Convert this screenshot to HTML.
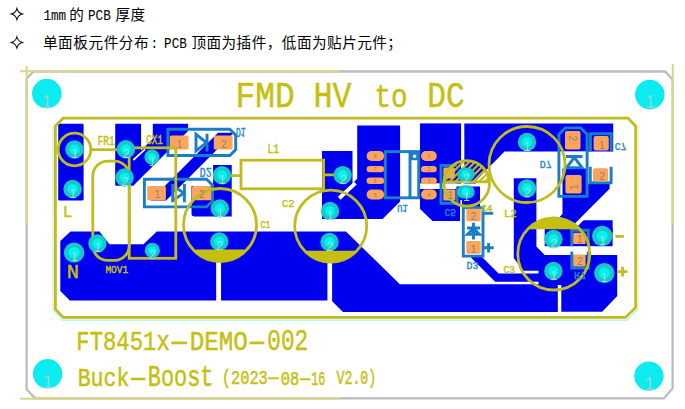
<!DOCTYPE html>
<html lang="zh">
<head>
<meta charset="utf-8">
<title>PCB</title>
<style>
html,body{margin:0;padding:0;background:#fff;}
body{width:685px;height:409px;overflow:hidden;position:relative;}
svg{position:absolute;left:0;top:0;}
.cj{font-family:"Liberation Sans","Noto Sans CJK SC",sans-serif;font-size:14.6px;fill:#000;}
.la{font-family:"Liberation Mono",monospace;font-size:14.7px;fill:#000;}
.cu{fill:#0000f0;}
.silk{fill:none;stroke:#c0bb1e;stroke-width:2.8;}
.silkf{fill:#c5c010;}
.bl{fill:none;stroke:#1a7dc6;stroke-width:2.9;}
.pad{fill:#fba55c;}
.st{font-family:"Liberation Mono",monospace;fill:#c5c010;stroke:#c5c010;stroke-width:0.45;}
.bt{font-family:"Liberation Mono",monospace;fill:#2a86c8;stroke:#2a86c8;stroke-width:0.4;}
.pn{font-family:"Liberation Sans",sans-serif;fill:#94806e;font-size:10.5px;}
.pc{font-family:"Liberation Sans",sans-serif;fill:#8fd6da;font-size:17.5px;}
.pp{font-family:"Liberation Sans",sans-serif;fill:#a8dcdc;font-size:12px;}
</style>
</head>
<body>

<svg width="685" height="409" viewBox="0 0 685 409">
<defs>
<pattern id="hatch" width="4.2" height="4.2" patternUnits="userSpaceOnUse" patternTransform="rotate(-45)">
<rect x="0" y="0" width="4.2" height="2.1" fill="#c5c010"/>
</pattern>
<clipPath id="c4top"><rect x="440" y="155" width="55" height="27.5"/></clipPath>
<clipPath id="c1clip"><rect x="180" y="249.5" width="80" height="20"/></clipPath>
<clipPath id="c2clip"><rect x="290" y="250.8" width="80" height="20"/></clipPath>
<clipPath id="c3clip"><rect x="510" y="210" width="90" height="19.2"/></clipPath>
<g id="p9"><circle r="9.2" fill="#19c6c8"/><circle r="5" fill="#00f2f2"/></g>
<g id="p7"><circle r="7.6" fill="#19c6c8"/><circle r="4.2" fill="#00f2f2"/></g>
<g id="p10"><circle r="10.2" fill="#19c6c8"/><circle r="5.6" fill="#00f2f2"/></g>
<g id="pov"><rect x="-8.8" y="-6.6" width="17.6" height="13.2" rx="6.6" fill="#19c6c8"/><circle r="4.4" fill="#00f2f2"/></g>
</defs>

<!-- heading text -->
<g id="head">
<path d="M16.9 8.5Q18.049999999999997 12.95 22.5 14.1Q18.049999999999997 15.25 16.9 19.7Q15.749999999999998 15.25 11.299999999999999 14.1Q15.749999999999998 12.95 16.9 8.5Z" fill="#fff" stroke="#111" stroke-width="1.05" stroke-linejoin="miter"/>
<path d="M16.9 36.8Q18.049999999999997 41.25 22.5 42.4Q18.049999999999997 43.55 16.9 48.0Q15.749999999999998 43.55 11.299999999999999 42.4Q15.749999999999998 41.25 16.9 36.8Z" fill="#fff" stroke="#111" stroke-width="1.05" stroke-linejoin="miter"/>
<text class="la" x="43.4" y="19.5" textLength="22.8" lengthAdjust="spacingAndGlyphs">1mm</text>
<text class="cj" x="69.3" y="19.8">的</text>
<text class="la" x="88" y="19.5" textLength="22.8" lengthAdjust="spacingAndGlyphs">PCB</text>
<text class="cj" x="115.4" y="19.8" style="letter-spacing:0.6px">厚度</text>
<text class="cj" x="42.9" y="48.2" style="letter-spacing:0.6px">单面板元件分布</text>
<text class="la" x="150.5" y="47.900000000000006" textLength="7.6" lengthAdjust="spacingAndGlyphs">:</text>
<text class="la" x="164.1" y="47.900000000000006" textLength="22.8" lengthAdjust="spacingAndGlyphs">PCB</text>
<text class="cj" x="191.4" y="48.2" style="letter-spacing:0.48px">顶面为插件，低面为贴片元件；</text>
</g>
<!-- faint guide lines -->
<g fill="none" stroke-width="1.3">

</g>
<!-- board outline -->
<path d="M33.6 71.5H665.2L672.6 79.4V388.4L663.8 398.4H35L26.6 389.2V78.8Z" fill="none" stroke="#bcbcbc" stroke-width="2.3"/>
<g fill="none" stroke="#dad685" stroke-width="2">
<path d="M20 71.2H340"/>
<path d="M26.7 66V224"/>
<path d="M672.7 64V224"/>
<path d="M20 398.8H339"/>
</g>

<!-- corner holes -->
<g fill="#0cecf0">
<circle cx="46.8" cy="93.6" r="14.8"/>
<circle cx="649.8" cy="94.6" r="14.8"/>
<circle cx="47.6" cy="373.8" r="14.7"/>
<circle cx="648.9" cy="376.1" r="14.7"/>
</g>
<g class="pc">
<text x="42" y="107.6">1</text>
<text x="645" y="108.4">1</text>
<text x="42.8" y="388.4">1</text>
<text x="644.4" y="390">1</text>
</g>

<!-- copper -->
<g class="cu" id="copper">
<rect x="58.2" y="123.8" width="25.4" height="76.8" rx="1.3"/>
<path d="M116.2 123.8H141V178L133.3 185.7H116.2Q115.2 185.7 115.2 184.7V124.8Q115.2 123.8 116.2 123.8Z"/>
<path d="M152.8 123.8H188.1V130.9L141 178V150.6L152.8 138.8Z"/>
<path d="M214 132.7H232.6V133.9L166.1 200.4H150.3L218 132.7Z"/>
<path d="M213.1 165H231.7V216.6H194.5Q191.5 216.6 191.5 213.6V186H213.1Z"/>
<path d="M322 151H352.5V183.5L357.2 178.8V125.5H400.1V201.5L382.6 219H322Z"/>
<rect x="420" y="123.4" width="41.1" height="60.2" />
<path d="M420 189H456.5V186.5H480V207H460V221H432.6L420 209Z"/>
<path d="M464.3 123.4H613.2V151.5H504.5L476 180.5V183.5H464.4Z"/>
<path d="M513.8 178.3H536.4V246.5L544.7 255H617.2V296L602.2 311.7H561.3V285H538.5V270.7H523L513.8 258Z"/>
<path d="M474 254.8L496.9 277.7H540" fill="none" stroke="#0000f0" stroke-width="8.2"/>
<rect x="544.7" y="228" width="67.9" height="18.2"/>
<path d="M583.6 220.2H612.6V232H571.8Z"/>
<path d="M562.5 168.6H588V183.4H609.6V188.8L569.4 229H552V224.4L562.5 213.9Z"/>
<path d="M60.3 241L70.5 231.4H99.5L109.4 244.2H143.5L156.8 231.4H345.9L399.9 284.3H557.8V311.9H343L332 301.1V300.4H69.8L60.3 290.9Z"/>
</g>
<!-- white gaps -->
<g stroke="#fff" fill="none">
<path d="M133.3 160L145 149.4" stroke-width="1.7"/>
<path d="M355.4 183.1L339.2 198.2" stroke-width="3.9"/>
<path d="M420 185.2H456.5" stroke-width="3.6"/>
<path d="M461.2 200V221" stroke-width="1.6"/>
<path d="M218.6 261V301.5" stroke-width="4.9"/>
<path d="M329.75 262V302" stroke-width="4.7"/>
</g>
<rect x="400.9" y="152.5" width="17" height="44.5" fill="#fff"/>

<!-- SMD pads + blue outlines -->
<g id="smd">
<!-- D1 -->
<path class="bl" d="M167.9 129.3H229.8L235.7 135.2V149.6L229.8 155.5H167.9Z"/>
<rect class="pad" x="169.8" y="135.6" width="18.8" height="13.8" rx="1.5"/>
<rect class="pad" x="213.8" y="135.6" width="18.8" height="13.8" rx="1.5"/>
<path class="bl" d="M196 134.2V151L206.4 142.6ZM207 133.8V151.4" stroke-width="2.2"/>
<!-- D2 -->
<path class="bl" d="M144.4 179.3H206.6L212.5 185.2V201L206.6 206.9H144.4Z"/>
<rect class="pad" x="147.2" y="185.9" width="18.7" height="14.4" rx="1.5"/>
<rect class="pad" x="192" y="185.9" width="19.3" height="14.4" rx="1.5"/>
<path class="bl" d="M172.7 184V202.2M173 186L184 193.1L173 200.2M184.4 184V202.2" stroke-width="2.2"/>
<!-- U1 -->
<g class="pad">
<rect x="366.6" y="151" width="17.6" height="10" rx="5"/>
<rect x="366.6" y="165.9" width="17.6" height="6.4" rx="3.2"/>
<rect x="366.6" y="177.6" width="17.6" height="6.4" rx="3.2"/>
<rect x="366.6" y="189.5" width="17.6" height="10" rx="5"/>
<rect x="421" y="151" width="15.8" height="10" rx="5"/>
<rect x="421" y="165.9" width="15.8" height="6.4" rx="3.2"/>
<rect x="421" y="177.6" width="15.8" height="6.4" rx="3.2"/>
<rect x="421" y="189.5" width="15.8" height="10" rx="5"/>
</g>
<rect class="bl" x="385.3" y="151.6" width="33.4" height="46.2" stroke-width="2.6"/>
<path class="bl" d="M410 152V197.5" stroke-width="2"/>
<rect x="410.5" y="152" width="8" height="8.2" fill="#1a7dc6"/><circle cx="414.6" cy="156.3" r="1.7" fill="#fff"/>
<!-- C5 -->
<path class="bl" d="M457.2 165.5H441V203.2H457.2V188" stroke-width="2.4"/>
<rect class="pad" x="443.4" y="167.6" width="11.4" height="11" rx="1.2"/>
<rect class="pad" x="443.4" y="189.6" width="12" height="11" rx="1.2"/>
<!-- D3 -->
<rect x="464" y="208" width="18.5" height="47.5" fill="#fff"/>
<path class="bl" d="M463.3 207.6V256.1H483V207.6Z" stroke-width="2.6"/>
<rect class="pad" x="466.3" y="208.8" width="14.4" height="12.4" rx="1"/>
<rect class="pad" x="466.3" y="240.9" width="14.4" height="12.9" rx="1"/>
<path class="bl" d="M473.5 222.7V239.4M467.1 228H480M473.5 228.6L467.6 234.2H479.4Z" stroke-width="1.8"/>
<path class="bl" d="M483 213.3H493.2" stroke-width="1.8"/>
<path class="bl" d="M483.6 247.7H493.6M488.6 243V252.4" stroke-width="2.2"/>
<!-- D7 -->
<rect x="560" y="151.6" width="26" height="16.5" fill="#fff"/>
<path class="bl" d="M565.3 127.9H580.7L587.1 134.3V196.4H558.9V134.3Z" stroke-width="2.9"/>
<rect class="pad" x="565" y="130.9" width="15.5" height="18.7" rx="2"/>
<rect class="pad" x="565.4" y="175" width="16.2" height="18.4" rx="2"/>
<path class="bl" d="M566 156.5H582.6M574.3 157.4L566.4 167.8H582.2Z" stroke-width="2.3"/>
<!-- C7 -->
<path class="bl" d="M590.4 151.4V133.8H611.2V151.4M590.3 166.8V182.8H611.1V166.8" stroke-width="2.7"/>
<rect class="pad" x="593.6" y="136" width="15.2" height="14.6" rx="2"/>
<rect class="pad" x="592.9" y="168.2" width="15.3" height="13.2" rx="2"/>
<!-- R7 -->
<path class="bl" d="M571.8 246.2V230.2H588.2V246.2M571.8 251.4V268H588.2V251.4" stroke-width="2.2"/>
<rect class="pad" x="573.2" y="232.7" width="12.4" height="11.4" rx="1.2"/>
<rect class="pad" x="573.2" y="254.6" width="12.4" height="11.9" rx="1.2"/>
</g>

<!-- silkscreen -->
<g id="silk">
<path d="M53 309.5L63 320.3H626.5L638.3 308.6" fill="none" stroke="#b9f3f0" stroke-width="1.6"/>
<path d="M53.1 309.5V126" fill="none" stroke="#d9f2cf" stroke-width="1.4"/>
<path d="M638.2 308.6V126" fill="none" stroke="#f0f0c4" stroke-width="1.2"/>
<path class="silk" d="M63.2 118.2H628.1L635.7 126.2V307.5L625.4 317.4H63.4L55.4 309.2V126Z" stroke-width="2.9"/>
<circle class="silk" cx="74.5" cy="149.5" r="16.3"/>
<path class="silk" d="M90.8 149.7H117.5"/>
<rect class="silk" x="92.8" y="161.2" width="36.5" height="99.1" rx="14.8"/>
<rect class="silk" x="129.2" y="147.8" width="46.6" height="110.5"/>
<circle class="silk" cx="220" cy="225" r="36.5"/>
<rect class="silk" x="241" y="160.2" width="82.6" height="28.6"/>
<path class="silk" d="M231 175.6H241M323.6 174.9H334.5"/>
<circle class="silk" cx="330.7" cy="226.1" r="36"/>
<circle cx="466.7" cy="183.4" r="22.8" fill="url(#hatch)" clip-path="url(#c4top)"/>
<circle class="silk" cx="466.7" cy="183.4" r="22.8" stroke-width="3.1"/>
<path class="silk" d="M444 181.8H489.4" stroke-width="3.3"/>
<circle class="silk" cx="527" cy="164.5" r="38" stroke-width="2.6"/>
<circle class="silk" cx="553.8" cy="254" r="36"/>
<path class="silk" d="M615.3 236.4H623.8" stroke-width="2.6"/>
<path class="silk" d="M617.6 271.6H627.4M622.5 266.8V276.6" stroke-width="2.6"/>
</g>

<g class="pn">
<text x="176.5" y="147.5">1</text>
<text x="221" y="147.5">2</text>
<text x="154.5" y="198">1</text>
<text x="199" y="198">2</text>
<text x="447.5" y="199">1</text>
<text x="470.6" y="219.8">2</text>
<text x="470.6" y="252.6">1</text>
<text x="577" y="242.5">1</text>
<text x="577" y="264.5">2</text>
<text x="599" y="148.5">1</text>
<text x="599" y="180">2</text>
<text transform="translate(568.5,135.5) rotate(90)" x="0" y="0">2</text>
<text transform="translate(577.5,190) rotate(-90)" x="0" y="0">1</text>
</g>
<g class="pn" font-size="5.5" style="font-size:5.5px">
<text x="373.5" y="158.2">8</text>
<text x="373.5" y="171.2">7</text>
<text x="373.5" y="182.9">6</text>
<text x="373.5" y="196.7">5</text>
<text x="427.5" y="158.2">1</text>
<text x="427.5" y="171.2">2</text>
<text x="427.5" y="182.9">3</text>
<text x="427.5" y="196.7">4</text>
</g>
<!-- through-hole pads -->
<g id="pads">
<use href="#p9" x="74.5" y="149.5"/>
<use href="#p9" x="72.6" y="189"/>
<use href="#p9" x="125.9" y="149.3"/>
<use href="#p9" x="124.6" y="177.5"/>
<use href="#p7" x="152" y="157.1"/>
<use href="#p10" x="74.1" y="252.6"/>
<use href="#p9" x="97.4" y="243.4"/>
<use href="#p7" x="152.3" y="250.4"/>
<use href="#p9" x="222" y="175.2"/>
<use href="#p9" x="219.8" y="208.4"/>
<use href="#p9" x="219.3" y="241.4"/>
<use href="#p9" x="342.7" y="175.1"/>
<use href="#p9" x="330" y="210.9"/>
<use href="#p9" x="329.5" y="242"/>
<use href="#pov" x="465.9" y="174.3"/>
<use href="#pov" x="465.9" y="191.9"/>
<use href="#p9" x="527" y="142"/>
<use href="#p9" x="527" y="188.5"/>
<use href="#p9" x="553.5" y="239"/>
<use href="#p9" x="553.4" y="271"/>
<use href="#p10" x="602.2" y="236"/>
<use href="#p10" x="604.3" y="273.1"/>
</g>

<g id="silkfill">
<circle class="silkf" cx="220" cy="225" r="36.5" clip-path="url(#c1clip)"/>
<circle class="silkf" cx="330.7" cy="226.1" r="36" clip-path="url(#c2clip)"/>
<circle class="silkf" cx="553.8" cy="254" r="36" clip-path="url(#c3clip)"/>
</g>
<g class="pp">
<text x="71.2" y="157.9">1</text>
<text x="69.4" y="197.6">1</text>
<text x="122.7" y="157.9">2</text>
<text x="121.4" y="186.1">2</text>
<text x="148.8" y="165.7">1</text>
<text x="70.9" y="261.2">1</text>
<text x="94.2" y="252.0">1</text>
<text x="149.1" y="259.0">2</text>
<text x="218.8" y="183.8">1</text>
<text x="216.6" y="217.0">1</text>
<text x="216.1" y="250.0">2</text>
<text x="339.8" y="184.4">2</text>
<text x="326.8" y="219.5">1</text>
<text x="326.3" y="250.6">2</text>
<text x="463.1" y="182.8">2</text>
<text x="463.1" y="201.1">1</text>
<text x="523.8" y="150.6">1</text>
<text x="523.8" y="197.1">2</text>
<text x="550.3" y="247.6">2</text>
<text x="550.2" y="279.6">1</text>
<text x="599.0" y="244.6">1</text>
<text x="600.7" y="281.6">1</text>
</g>
<!-- text -->
<g id="txt">
<text class="st" transform="translate(235.52,107.00) scale(0.8212,0.9074)" font-size="40" stroke="#fff" stroke-width="1.0" vector-effect="non-scaling-stroke">FMD</text>
<text class="st" transform="translate(313.42,107.00) scale(0.7933,0.9074)" font-size="40" stroke="#fff" stroke-width="1.0" vector-effect="non-scaling-stroke">HV</text>
<text class="st" transform="translate(374.44,107.30) scale(0.6902,0.8444)" font-size="40" stroke="#fff" stroke-width="1.0" vector-effect="non-scaling-stroke">to</text>
<text class="st" transform="translate(427.36,107.30) scale(0.7791,0.9259)" font-size="40" stroke="#fff" stroke-width="1.0" vector-effect="non-scaling-stroke">DC</text>
<text class="st" transform="translate(97.65,145.40) scale(0.2364,0.2963)" font-size="40" stroke-width="0.5" vector-effect="non-scaling-stroke">FR1</text>
<text class="st" transform="translate(146.34,144.40) scale(0.2294,0.3000)" font-size="40" stroke-width="0.5" vector-effect="non-scaling-stroke">CX1</text>
<text class="st" transform="translate(62.67,217.40) scale(0.4059,0.4222)" font-size="40" stroke-width="0.5" vector-effect="non-scaling-stroke">L</text>
<text class="st" transform="translate(66.87,278.20) scale(0.5111,0.4889)" font-size="40" stroke-width="0.5" vector-effect="non-scaling-stroke">N</text>
<text class="st" transform="translate(105.39,272.80) scale(0.2363,0.2889)" font-size="40" stroke-width="0.5" vector-effect="non-scaling-stroke">MOV1</text>
<text class="st" transform="translate(260.58,228.20) scale(0.2091,0.2741)" font-size="40" stroke-width="0.5" vector-effect="non-scaling-stroke">C1</text>
<text class="st" transform="translate(282.08,207.10) scale(0.2605,0.2741)" font-size="40" stroke-width="0.5" vector-effect="non-scaling-stroke">C2</text>
<text class="st" transform="translate(267.39,152.80) scale(0.2415,0.2963)" font-size="40" stroke-width="0.5" vector-effect="non-scaling-stroke">L1</text>
<text class="st" transform="translate(481.23,211.90) scale(0.2341,0.2778)" font-size="40" stroke-width="0.5" vector-effect="non-scaling-stroke">C4</text>
<text class="st" transform="translate(503.96,217.00) scale(0.2675,0.2778)" font-size="40" stroke-width="0.5" vector-effect="non-scaling-stroke">L2</text>
<text class="st" transform="translate(503.52,272.50) scale(0.2386,0.2741)" font-size="40" stroke-width="0.5" vector-effect="non-scaling-stroke">C3</text>
<text class="st" transform="translate(76.27,349.70) scale(0.5568,0.7111)" font-size="40" stroke="#fff" stroke-width="0.8" vector-effect="non-scaling-stroke">FT8451x</text>
<text class="st" transform="translate(162.83,349.70) scale(1.3818,0.7111)" font-size="40" stroke="#fff" stroke-width="0.8" vector-effect="non-scaling-stroke">-</text>
<text class="st" transform="translate(189.78,349.70) scale(0.6055,0.7111)" font-size="40" stroke="#fff" stroke-width="0.8" vector-effect="non-scaling-stroke">DEMO</text>
<text class="st" transform="translate(241.46,349.70) scale(1.2909,0.7111)" font-size="40" stroke="#fff" stroke-width="0.8" vector-effect="non-scaling-stroke">-</text>
<text class="st" transform="translate(267.37,349.90) scale(0.5657,0.7259)" font-size="40" stroke="#fff" stroke-width="0.8" vector-effect="non-scaling-stroke">002</text>
<text class="st" transform="translate(77.68,386.10) scale(0.5396,0.6400)" font-size="40" stroke="#fff" stroke-width="0.8" vector-effect="non-scaling-stroke">Buck</text>
<text class="st" transform="translate(122.99,386.10) scale(1.2727,0.6400)" font-size="40" stroke="#fff" stroke-width="0.8" vector-effect="non-scaling-stroke">-</text>
<text class="st" transform="translate(147.76,386.20) scale(0.5478,0.7148)" font-size="40" stroke="#fff" stroke-width="0.8" vector-effect="non-scaling-stroke">Boost</text>
<text class="st" transform="translate(221.71,383.78) scale(0.3847,0.5026)" font-size="40" stroke="#fff" stroke-width="0.8" vector-effect="non-scaling-stroke">(2023</text>
<text class="st" transform="translate(262.80,383.78) scale(0.9000,0.5026)" font-size="40" stroke="#fff" stroke-width="0.8" vector-effect="non-scaling-stroke">-</text>
<text class="st" transform="translate(280.73,385.00) scale(0.3860,0.5111)" font-size="40" stroke="#fff" stroke-width="0.8" vector-effect="non-scaling-stroke">08</text>
<text class="st" transform="translate(294.24,385.00) scale(0.9091,0.5111)" font-size="40" stroke="#fff" stroke-width="0.8" vector-effect="non-scaling-stroke">-</text>
<text class="st" transform="translate(311.33,385.00) scale(0.2905,0.5111)" font-size="40" stroke="#fff" stroke-width="0.8" vector-effect="non-scaling-stroke">16</text>
<text class="st" transform="translate(336.60,383.78) scale(0.3292,0.5026)" font-size="40" stroke="#fff" stroke-width="0.8" vector-effect="non-scaling-stroke">V2.0)</text>
<text class="bt" transform="translate(236.11,127.50) scale(0.1977,-0.2963)" font-size="40" stroke-width="0.5" vector-effect="non-scaling-stroke">D1</text>
<text class="bt" transform="translate(199.76,167.60) scale(0.2476,-0.2963)" font-size="40" stroke-width="0.5" vector-effect="non-scaling-stroke">D2</text>
<text class="bt" transform="translate(397.35,204.60) scale(0.2163,-0.2667)" font-size="40" stroke-width="0.5" vector-effect="non-scaling-stroke">U1</text>
<text class="bt" transform="translate(444.53,209.20) scale(0.2341,-0.2889)" font-size="40" stroke-width="0.5" vector-effect="non-scaling-stroke">C5</text>
<text class="bt" transform="translate(466.55,262.10) scale(0.2488,-0.2778)" font-size="40" stroke-width="0.5" vector-effect="non-scaling-stroke">D3</text>
<text class="bt" transform="translate(539.75,160.70) scale(0.2500,-0.2704)" font-size="40" stroke-width="0.5" vector-effect="non-scaling-stroke">D7</text>
<text class="bt" transform="translate(614.82,143.00) scale(0.2419,-0.2852)" font-size="40" stroke-width="0.5" vector-effect="non-scaling-stroke">C7</text>
<text class="bt" transform="translate(574.06,272.10) scale(0.2476,-0.2704)" font-size="40" stroke-width="0.5" vector-effect="non-scaling-stroke">R7</text>
</g>

</svg>
</body>
</html>
